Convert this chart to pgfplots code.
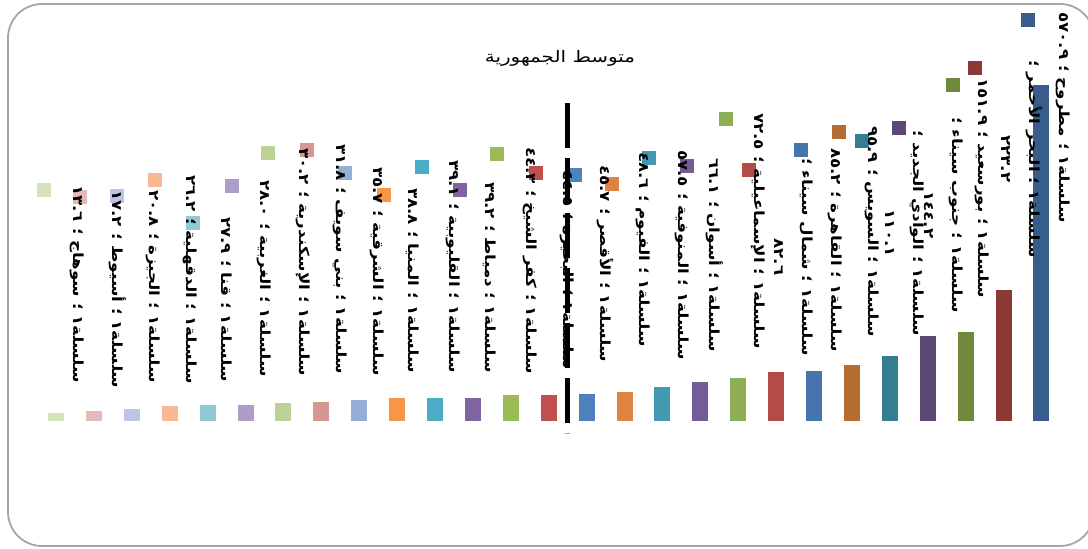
\documentclass[border=0pt]{standalone}
\usepackage{pgfplots}
\pgfplotsset{compat=1.18}
\usepackage{fontspec}
\setmainfont{DejaVu Sans}
\newfontfamily\arabicfont[Script=Arabic, FakeStretch=1.2]{DejaVu Sans}
\newfontfamily\titlefont[Script=Arabic, FakeStretch=1.25]{DejaVu Sans}
\TeXXeTstate=1

% bar fills, left to right
\definecolor{c0}{HTML}{D5E3BC}
\definecolor{c1}{HTML}{E6B8B7}
\definecolor{c2}{HTML}{B9C7E2}
\definecolor{c3}{HTML}{F9B894}
\definecolor{c4}{HTML}{93C8D8}
\definecolor{c5}{HTML}{AC9EC6}
\definecolor{c6}{HTML}{BCD294}
\definecolor{c7}{HTML}{D59694}
\definecolor{c8}{HTML}{95AED6}
\definecolor{c9}{HTML}{F79646}
\definecolor{c10}{HTML}{4BACC6}
\definecolor{c11}{HTML}{8064A2}
\definecolor{c12}{HTML}{9BBB59}
\definecolor{c13}{HTML}{C0504D}
\definecolor{c14}{HTML}{4F81BD}
\definecolor{c15}{HTML}{DF8344}
\definecolor{c16}{HTML}{4399B1}
\definecolor{c17}{HTML}{745C96}
\definecolor{c18}{HTML}{8EAE53}
\definecolor{c19}{HTML}{B44B48}
\definecolor{c20}{HTML}{4675AE}
\definecolor{c21}{HTML}{B66D31}
\definecolor{c22}{HTML}{357D91}
\definecolor{c23}{HTML}{5C4776}
\definecolor{c24}{HTML}{71893F}
\definecolor{c25}{HTML}{8C3836}
\definecolor{c26}{HTML}{385D8A}
\definecolor{frame}{HTML}{A6A6A6}

% one data label: block centre x, top y (in px from the top), content
\newcommand\lab[3]{%
  \node[rotate=-90, anchor=west, inner sep=0pt, align=center,
        font=\arabicfont\bfseries\fontsize{14}{28}\selectfont]
    at (#1bp,{(549-#2)*1bp}) {#3};}
% legend key of a data label
\newcommand\key[3]{%
  \fill[#1] ({(#2-7)*1bp},{(549-#3-7)*1bp}) rectangle ++(14bp,14bp);}
\newcommand\ser{سلسلة{}١ ؛ }

\begin{document}
\begin{tikzpicture}
\useasboundingbox (0,0) rectangle (1088bp,549bp);
\draw[frame, line width=1.8bp, rounded corners=34bp]
  (8bp,3bp) rectangle (1094bp,545bp);

\begin{axis}[
  at={(18.1bp,128bp)}, anchor=south west,
  scale only axis, width=1061.2bp, height=412.0bp,
  xmin=-1, xmax=27, ymin=0, ymax=700,
  hide axis, clip=false,
  ybar, bar width=16bp, bar shift=0pt,
]
\addplot[fill=c0, draw=none] coordinates {(0,13.6)};
\addplot[fill=c1, draw=none] coordinates {(1,17.2)};
\addplot[fill=c2, draw=none] coordinates {(2,20.8)};
\addplot[fill=c3, draw=none] coordinates {(3,26.2)};
\addplot[fill=c4, draw=none] coordinates {(4,27.9)};
\addplot[fill=c5, draw=none] coordinates {(5,28.0)};
\addplot[fill=c6, draw=none] coordinates {(6,30.2)};
\addplot[fill=c7, draw=none] coordinates {(7,31.8)};
\addplot[fill=c8, draw=none] coordinates {(8,35.7)};
\addplot[fill=c9, draw=none] coordinates {(9,38.8)};
\addplot[fill=c10, draw=none] coordinates {(10,39.1)};
\addplot[fill=c11, draw=none] coordinates {(11,39.2)};
\addplot[fill=c12, draw=none] coordinates {(12,44.3)};
\addplot[fill=c13, draw=none] coordinates {(13,44.5)};
\addplot[fill=c14, draw=none] coordinates {(14,45.7)};
\addplot[fill=c15, draw=none] coordinates {(15,48.6)};
\addplot[fill=c16, draw=none] coordinates {(16,57.5)};
\addplot[fill=c17, draw=none] coordinates {(17,66.1)};
\addplot[fill=c18, draw=none] coordinates {(18,72.5)};
\addplot[fill=c19, draw=none] coordinates {(19,82.6)};
\addplot[fill=c20, draw=none] coordinates {(20,85.2)};
\addplot[fill=c21, draw=none] coordinates {(21,95.9)};
\addplot[fill=c22, draw=none] coordinates {(22,110.1)};
\addplot[fill=c23, draw=none] coordinates {(23,144.2)};
\addplot[fill=c24, draw=none] coordinates {(24,151.9)};
\addplot[fill=c25, draw=none] coordinates {(25,223.2)};
\addplot[fill=c26, draw=none] coordinates {(26,570.9)};
\end{axis}

% legend keys
\key{c0}{44}{190}   \key{c1}{80}{197}   \key{c2}{117}{196}
\key{c3}{155}{180}  \key{c4}{193}{223}  \key{c5}{232}{186}
\key{c6}{268}{153}  \key{c7}{307}{150}  \key{c8}{345}{173}
\key{c9}{384}{195}  \key{c10}{422}{167} \key{c11}{460}{190}
\key{c12}{497}{154} \key{c13}{536}{173} \key{c14}{575}{175}
\key{c15}{612}{184} \key{c16}{649}{158} \key{c17}{687}{166}
\key{c18}{726}{119} \key{c19}{749}{170} \key{c20}{801}{150}
\key{c21}{839}{132} \key{c22}{862}{141} \key{c23}{899}{128}
\key{c24}{953}{85}  \key{c25}{975}{68}  \key{c26}{1028}{20}

% data labels
\lab{77}{185}{\beginR\ser سوهاج ؛ \beginL١٣.٦\endL\endR}
\lab{118}{190}{\beginR\ser أسيوط ؛ \beginL١٧.٢\endL\endR}
\lab{153}{190}{\beginR\ser الجيزة ؛ \beginL٢٠.٨\endL\endR}
\lab{190}{175}{\beginR\ser الدقهلية ؛ \beginL٢٦.٢\endL\endR}
\lab{227}{217}{\beginR\ser قنا ؛ \beginL٢٧.٩\endL\endR}
\lab{264}{180}{\beginR\ser الغربية ؛ \beginL٢٨.٠\endL\endR}
\lab{303}{148}{\beginR\ser الإسكندرية ؛ \beginL٣٠.٢\endL\endR}
\lab{340}{144}{\beginR\ser بني سويف ؛ \beginL٣١.٨\endL\endR}
\lab{377}{167}{\beginR\ser الشرقية ؛ \beginL٣٥.٧\endL\endR}
\lab{413}{188}{\beginR\ser المنيا ؛ \beginL٣٨.٨\endL\endR}
\lab{453}{160}{\beginR\ser القليوبية ؛ \beginL٣٩.١\endL\endR}
\lab{490}{182}{\beginR\ser دمياط ؛ \beginL٣٩.٢\endL\endR}
\lab{530}{147}{\beginR\ser كفر الشيخ ؛ \beginL٤٤.٣\endL\endR}
\lab{567}{170}{\beginR\ser البحيرة ؛ \beginL٤٤.٥\endL\endR}
\lab{605}{165}{\beginR\ser الأقصر ؛ \beginL٤٥.٧\endL\endR}
\lab{643}{152}{\beginR\ser الفيوم ؛ \beginL٤٨.٦\endL\endR}
\lab{682}{150}{\beginR\ser المنوفية ؛ \beginL٥٧.٥\endL\endR}
\lab{715}{158}{\beginR\ser أسوان ؛ \beginL٦٦.١\endL\endR}
\lab{758}{113}{\beginR\ser الإسماعيلية ؛ \beginL٧٢.٥\endL\endR}
\lab{794}{158}{\beginR\ser شمال سيناء ؛\endR\\\beginR\beginL٨٢.٦\endL\endR}
\lab{835}{148}{\beginR\ser القاهرة ؛ \beginL٨٥.٢\endL\endR}
\lab{872}{126}{\beginR\ser السويس ؛ \beginL٩٥.٩\endL\endR}
\lab{905}{130}{\beginR\ser الوادي الجديد ؛\endR\\\beginR\beginL١١٠.١\endL\endR}
\lab{944}{117}{\beginR\ser جنوب سيناء ؛\endR\\\beginR\beginL١٤٤.٢\endL\endR}
\lab{982}{78}{\beginR\ser بورسعيد ؛ \beginL١٥١.٩\endL\endR}
\lab{1022}{60}{\beginR\ser البحر الأحمر ؛\endR\\\beginR\beginL٢٢٣.٢\endL\endR}
\lab{1063}{12}{\beginR\ser مطروح ؛ \beginL٥٧٠.٩\endL\endR}

% national average marker and its caption
\begin{axis}[
  at={(18.1bp,128bp)}, anchor=south west,
  scale only axis, width=1061.2bp, height=412.0bp,
  xmin=-1, xmax=27, ymin=0, ymax=700,
  hide axis, clip=false,
]
\addplot[black, line width=5bp, dash pattern=on 45bp off 10bp]
  coordinates {(13.5,540.3) (13.5,-20.4)};
\end{axis}
\node[font=\titlefont\fontsize{16}{18}\selectfont, inner sep=0pt]
  at (560bp,491bp) {\beginR متوسط الجمهورية\endR};
\end{tikzpicture}
\end{document}
